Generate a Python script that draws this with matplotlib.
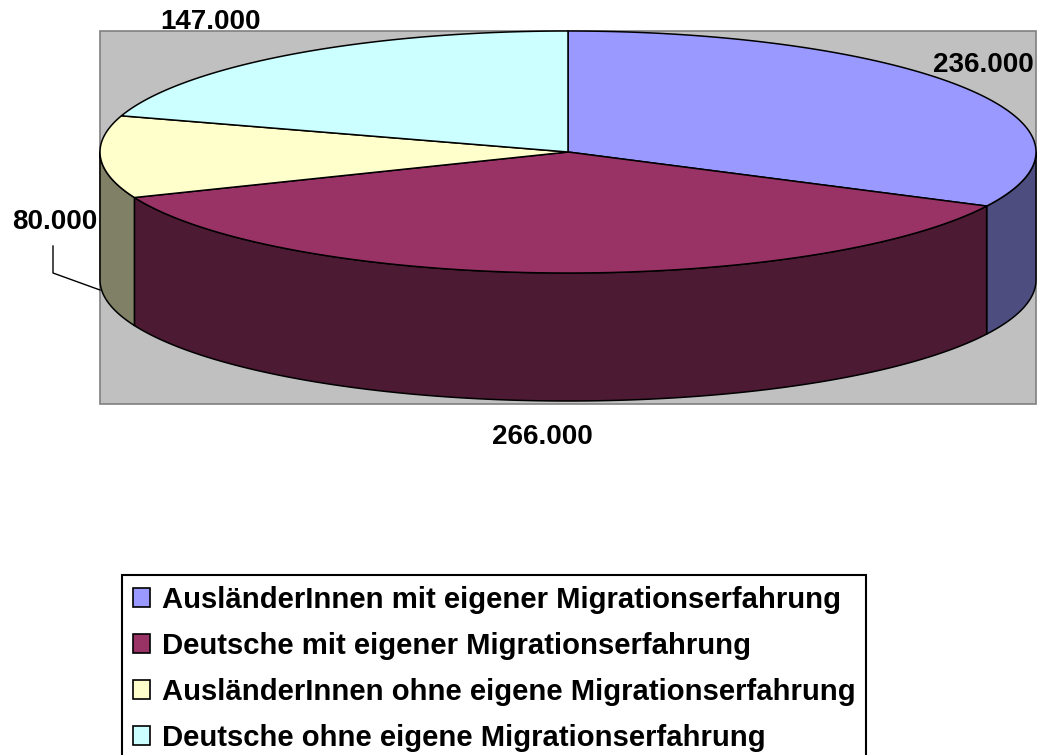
import numpy as np
import matplotlib
matplotlib.use('Agg')
import matplotlib.pyplot as plt
from matplotlib.patches import Polygon, Rectangle, Patch

plt.rcParams['font.family'] = ['Liberation Sans', 'DejaVu Sans']

categories = ["AusländerInnen mit eigener Migrationserfahrung",
              "Deutsche mit eigener Migrationserfahrung",
              "AusländerInnen ohne eigene Migrationserfahrung",
              "Deutsche ohne eigene Migrationserfahrung"]
values = [236000, 266000, 80000, 147000]
value_labels = ["236.000", "266.000", "80.000", "147.000"]
top_colors = ["#9999FF", "#993366", "#FFFFCC", "#CCFFFF"]
side_colors = ["#4D4D80", "#4D1A33", "#808066", "#668080"]

W, H = 1042, 755
fig = plt.figure(figsize=(W / 100, H / 100), dpi=100)
ax = fig.add_axes([0, 0, 1, 1])
ax.set_xlim(0, W)
ax.set_ylim(H, 0)
ax.axis('off')

# plot area
ax.add_patch(Rectangle((100, 31), 936, 373, facecolor='#C0C0C0',
                       edgecolor='#808080', lw=1.2, zorder=0))

cx, cy, rx, ry, depth = 568, 152, 468, 121, 128


def pt(theta, dy=0.0):
    return cx + rx * np.sin(theta), cy - ry * np.cos(theta) + dy


fractions = np.array(values, dtype=float) / sum(values)
bounds = np.concatenate([[0], np.cumsum(fractions)]) * 2 * np.pi

# side walls (front half only)
for i in range(len(values)):
    a, b = bounds[i], bounds[i + 1]
    lo, hi = max(a, np.pi / 2), min(b, 3 * np.pi / 2)
    if hi > lo:
        t = np.linspace(lo, hi, 200)
        x, y = pt(t)
        xb, yb = pt(t[::-1], depth)
        poly = np.column_stack([np.concatenate([x, xb]), np.concatenate([y, yb])])
        ax.add_patch(Polygon(poly, closed=True, facecolor=side_colors[i],
                             edgecolor='black', lw=1.1, joinstyle='round', zorder=2))

# top faces
for i in range(len(values)):
    t = np.linspace(bounds[i], bounds[i + 1], 300)
    x, y = pt(t)
    poly = np.column_stack([np.concatenate([[cx], x]), np.concatenate([[cy], y])])
    ax.add_patch(Polygon(poly, closed=True, facecolor=top_colors[i],
                         edgecolor='black', lw=1.1, joinstyle='round', zorder=3))

# data labels
label_pos = [(983, 65), (542, 437), (55, 222), (210, 22)]
for (lx, ly), txt in zip(label_pos, value_labels):
    ax.text(lx, ly, txt, ha='center', va='center', fontsize=20,
            fontweight='bold', color='black', zorder=5)

# leader line for small slice
ax.plot([53, 53, 100], [246, 273, 290], color='black', lw=1.0, zorder=4)

# legend
handles = [Patch(facecolor=c, edgecolor='black', lw=1.2) for c in top_colors]
leg = fig.legend(handles, categories, loc='upper left',
                 bbox_to_anchor=(122 / W, 1 - 575 / H),
                 bbox_transform=fig.transFigure,
                 prop={'size': 21.1, 'weight': 'bold'},
                 frameon=True, fancybox=False, shadow=False,
                 edgecolor='black', facecolor='white', framealpha=1,
                 handlelength=0.6, handleheight=0.6, handletextpad=0.4,
                 labelspacing=0.62, borderpad=0.36, borderaxespad=0)
leg.get_frame().set_linewidth(1.5)

fig.savefig('out.png', dpi=100)
